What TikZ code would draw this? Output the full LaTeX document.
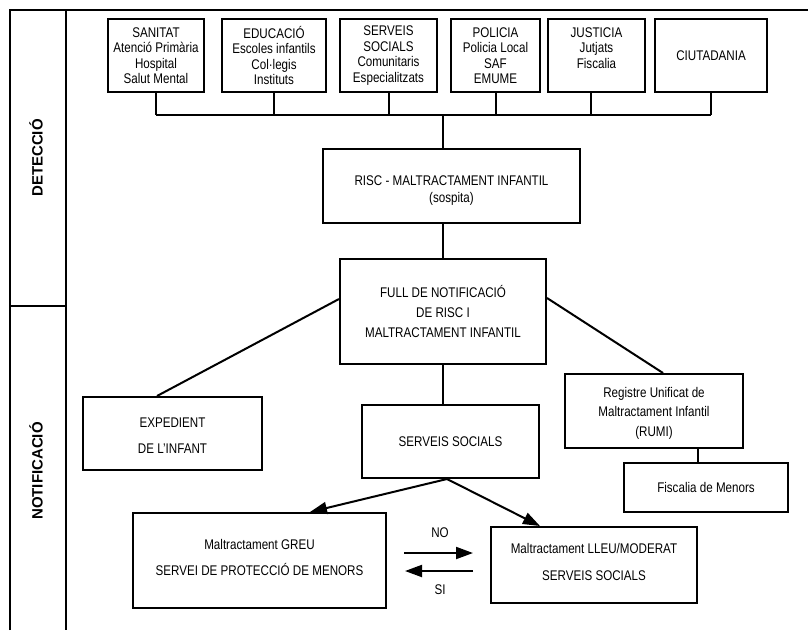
\documentclass[tikz,border=0pt]{standalone}
\usepackage{fontspec}
\setmainfont{Liberation Sans}[FakeStretch=0.83]
\newfontfamily\sidefont{Liberation Sans}
\usetikzlibrary{arrows.meta}
\begin{document}
\begin{tikzpicture}[x=1pt,y=-1pt,
  box/.style={draw, line width=2pt, inner sep=0pt, align=center},
  txt/.style={align=center, inner sep=0pt},
  topbox/.style={box, minimum height=73pt, font=\fontsize{14}{15.5}\selectfont},
  conn/.style={line width=2pt},
  arr/.style={line width=2pt, -{Triangle[length=17pt,width=12pt]}},
  lbl/.style={font=\fontsize{14}{16}\selectfont, inner sep=0pt},
  side/.style={rotate=90, font=\sidefont\bfseries\fontsize{15}{18}\selectfont, inner sep=0pt}]
\useasboundingbox (0,0) rectangle (808,630);
% frame
\draw[conn] (10,630) -- (10,10) -- (808,10);
\draw[conn] (66,10) -- (66,630);
\draw[conn] (10,306) -- (66,306);
\node[side] (det) at (36,158) {DETECCIÓ};
\node[side] (notif) at (36,471) {NOTIFICACIÓ};
% top row
\node[topbox, minimum width=96pt] (san) at (156,55.5) {SANITAT\\Atenció Primària\\Hospital\\Salut Mental};
\node[topbox, minimum width=104pt] (edu) at (274,55.5) {EDUCACIÓ\\Escoles infantils\\Col·legis\\Instituts};
\node[topbox, minimum width=97pt] (ser) at (388.5,55.5) {SERVEIS\\SOCIALS\\Comunitaris\\Especialitzats};
\node[topbox, minimum width=89pt] (pol) at (495.5,55.5) {POLICIA\\Policia Local\\SAF\\EMUME};
\node[topbox, minimum width=97pt, label={[txt, font=\fontsize{14}{15.5}\selectfont, yshift=7.5pt]center:{JUSTICIA\\Jutjats\\Fiscalia}}] (jus) at (596.5,55.5) {};
\node[topbox, minimum width=112pt] (ciu) at (711,55.5) {CIUTADANIA};
% bus
\coordinate (busM) at (443,115);
\draw[conn] (san.south |- busM) -- (ciu.south |- busM);
\foreach \n in {san,edu,ser,pol,ciu} \draw[conn] (\n.south) -- (\n.south |- busM);
\draw[conn] ([xshift=-6pt]jus.south) -- ([xshift=-6pt]jus.south |- busM);
% middle
\node[box, minimum width=257pt, minimum height=74pt, label={[txt, font=\fontsize{14}{17}\selectfont, yshift=-5pt]center:{RISC - MALTRACTAMENT INFANTIL\\(sospita)}}] (risc) at (451.5,186) {};
\draw[conn] (busM) -- (busM |- risc.north);
\node[box, minimum width=206pt, minimum height=105pt, font=\fontsize{14}{20}\selectfont] (full) at (443,311.5) {FULL DE NOTIFICACIÓ\\DE RISC I\\MALTRACTAMENT INFANTIL};
\draw[conn] (full.north) -- (full.north |- risc.south);
\node[box, minimum width=179pt, minimum height=73pt, label={[txt, font=\fontsize{14}{26}\selectfont, yshift=-2pt]center:{EXPEDIENT\\DE L’INFANT}}] (exp) at (172.5,433.5) {};
\node[box, minimum width=177pt, minimum height=73pt, font=\fontsize{14}{17}\selectfont] (ss) at (450.5,441.5) {SERVEIS SOCIALS};
\node[box, minimum width=178pt, minimum height=74pt, label={[txt, font=\fontsize{14}{19.5}\selectfont, yshift=-2pt]center:{Registre Unificat de\\Maltractament Infantil\\(RUMI)}}] (rumi) at (654,411) {};
\node[box, minimum width=164pt, minimum height=49pt, font=\fontsize{14}{17}\selectfont] (fisc) at (706,487.5) {Fiscalia de Menors};
\draw[conn] ([yshift=12.5pt]full.west) -- ([xshift=-15.5pt]exp.north);
\draw[conn] ([yshift=13.5pt]full.east) -- ([xshift=9pt]rumi.north);
\draw[conn] (full.south) -- (full.south |- ss.north);
\draw[conn] ([xshift=44pt]rumi.south) -- ([xshift=44pt]rumi.south |- fisc.north);
% bottom
\node[box, minimum width=253pt, minimum height=95pt, label={[txt, font=\fontsize{14}{26}\selectfont, yshift=3pt]center:{Maltractament GREU\\SERVEI DE PROTECCIÓ DE MENORS}}] (greu) at (259.5,560.5) {};
\node[box, minimum width=206pt, minimum height=76pt, label={[txt, font=\fontsize{14}{27}\selectfont, yshift=3pt]center:{Maltractament LLEU/MODERAT\\SERVEIS SOCIALS}}] (lleu) at (594,565) {};
\draw[arr] ([xshift=-3.5pt]ss.south) -- ([xshift=50.5pt]greu.north);
\draw[arr] ([xshift=-3.5pt]ss.south) -- ([xshift=-54pt]lleu.north);
\coordinate (noS) at (404,553);
\coordinate (noE) at (473,553);
\coordinate (siS) at (473,571);
\coordinate (siE) at (405,571);
\draw[arr] (noS) -- (noE);
\draw[arr] (siS) -- (siE);
\node[lbl] (nolab) at (440,533) {NO};
\node[lbl] (silab) at (440,590) {SI};
\end{tikzpicture}
\end{document}
